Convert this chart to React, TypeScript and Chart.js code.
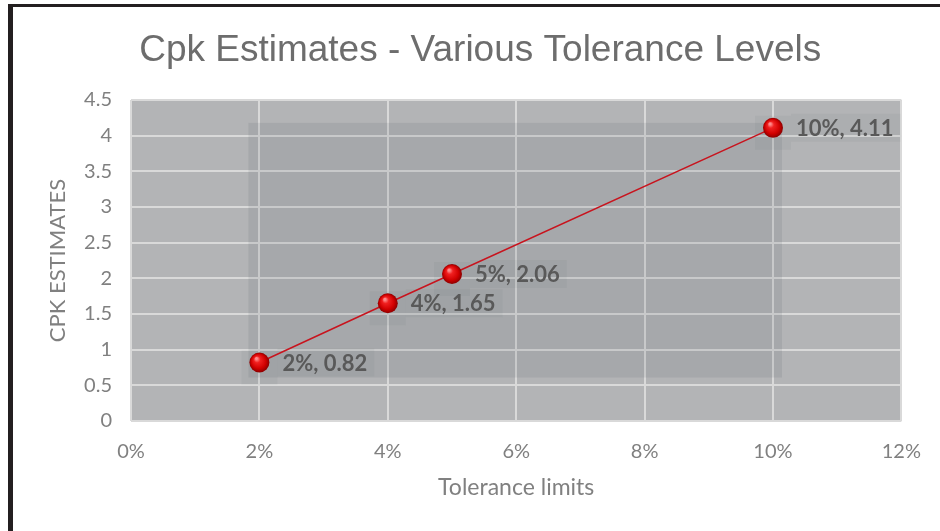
import React, { useEffect, useRef } from "react";
import { Chart, registerables } from "chart.js";

Chart.register(...registerables);

const tolerances = [0.02, 0.04, 0.05, 0.1];
const cpkValues = [0.82, 1.65, 2.06, 4.11];
const labelTexts = ["2%, 0.82", "4%, 1.65", "5%, 2.06", "10%, 4.11"];
const titleText = "Cpk Estimates - Various Tolerance Levels";
const xTitle = "Tolerance limits";
const yTitle = "CPK ESTIMATES";

const LABEL_FONT = "bold 22px Lato, 'Open Sans', sans-serif";
const TITLE_FONT = "37px 'Liberation Sans', Arial, sans-serif";

const decorPlugin = {
  id: "decor",
  beforeDraw(chart: any) {
    const ctx = chart.ctx;
    ctx.save();
    ctx.fillStyle = "#ffffff";
    ctx.fillRect(0, 0, chart.width, chart.height);
    ctx.fillStyle = "#231f20";
    ctx.fillRect(8, 4, 5, chart.height - 4);
    ctx.fillRect(8, 4, chart.width - 8, 3);
    const a = chart.chartArea;
    ctx.fillStyle = "#b3b4b6";
    ctx.fillRect(a.left, a.top, a.right - a.left, a.bottom - a.top);
    ctx.restore();
  },
  beforeDatasetsDraw(chart: any) {
    const ctx = chart.ctx;
    const meta = chart.getDatasetMeta(0);
    const pts = meta.data;
    if (!pts.length) return;
    let minX = Infinity, maxX = -Infinity, minY = Infinity, maxY = -Infinity;
    pts.forEach((p: any) => {
      minX = Math.min(minX, p.x); maxX = Math.max(maxX, p.x);
      minY = Math.min(minY, p.y); maxY = Math.max(maxY, p.y);
    });
    ctx.save();
    ctx.fillStyle = "rgba(60,70,80,0.10)";
    ctx.fillRect(minX - 11, minY - 5, maxX - minX + 20, maxY - minY + 20);
    ctx.font = LABEL_FONT;
    pts.forEach((p: any, i: number) => {
      ctx.fillStyle = "rgba(60,70,80,0.05)";
      ctx.fillRect(p.x - 18, p.y - 12, 36, 34);
      const w = ctx.measureText(labelTexts[i]).width;
      ctx.fillRect(p.x + 18, p.y - 14, w + 12, 28);
    });
    ctx.restore();
  },
  afterDatasetsDraw(chart: any) {
    const ctx = chart.ctx;
    const meta = chart.getDatasetMeta(0);
    ctx.save();
    meta.data.forEach((p: any, i: number) => {
      const r = 10;
      const g = ctx.createRadialGradient(p.x - 3, p.y - 4, 1, p.x, p.y, r);
      g.addColorStop(0, "#ff8a8a");
      g.addColorStop(0.25, "#f02020");
      g.addColorStop(0.7, "#d00000");
      g.addColorStop(1, "#8a0000");
      ctx.beginPath();
      ctx.arc(p.x, p.y, r, 0, Math.PI * 2);
      ctx.fillStyle = g;
      ctx.fill();
      ctx.fillStyle = "#595959";
      ctx.font = LABEL_FONT;
      ctx.textAlign = "left";
      ctx.textBaseline = "middle";
      ctx.fillText(labelTexts[i], p.x + 23, p.y + 1);
    });
    ctx.restore();
  },
  afterDraw(chart: any) {
    const ctx = chart.ctx;
    const a = chart.chartArea;
    ctx.save();
    ctx.font = TITLE_FONT;
    ctx.fillStyle = "#6d6d6d";
    ctx.textAlign = "center";
    ctx.textBaseline = "alphabetic";
    ctx.fillText(titleText, a.left + (a.right - a.left) / 2 - 36, 61);
    ctx.restore();
  },
};

export default function App() {
  const ref = useRef<HTMLCanvasElement>(null);
  useEffect(() => {
    if (!ref.current) return;
    const tickFont = { family: "Lato, 'Open Sans', sans-serif", size: 20 };
    const chart = new Chart(ref.current, {
      type: "scatter",
      data: {
        datasets: [
          {
            data: tolerances.map((t, i) => ({ x: t, y: cpkValues[i] })),
            showLine: true,
            borderColor: "#c8141e",
            borderWidth: 1.5,
            pointRadius: 0,
            pointHoverRadius: 0,
          },
        ],
      },
      options: {
        animation: false,
        responsive: false,
        events: [],
        layout: { padding: { top: 8, left: 0, right: 37, bottom: 0 } },
        plugins: {
          legend: { display: false },
          tooltip: { enabled: false },
          title: {
            display: true,
            text: titleText,
            color: "rgba(0,0,0,0)",
            font: { family: "'Liberation Sans', Arial, sans-serif", size: 37, weight: "normal", lineHeight: 1.2 },
            padding: { top: 16, bottom: 31.6 },
          },
        },
        scales: {
          x: {
            type: "linear",
            min: 0,
            max: 0.12,
            ticks: {
              stepSize: 0.02,
              color: "#808080",
              font: tickFont,
              padding: 19,
              callback: (v: any) => Math.round(Number(v) * 100) + "%",
            },
            grid: { color: "#d9d9d9", lineWidth: 2, drawTicks: false },
            border: { display: false },
            title: {
              display: true,
              text: xTitle,
              color: "#808080",
              font: { family: "Lato, 'Open Sans', sans-serif", size: 23, lineHeight: 1.2 },
              padding: { top: 0, bottom: 29.2 },
            },
            afterFit: (s: any) => { s.height = 110; },
          },
          y: {
            min: 0,
            max: 4.5,
            ticks: {
              stepSize: 0.5,
              color: "#808080",
              font: tickFont,
              padding: 19,
              callback: (v: any) => String(Number(v)),
            },
            grid: { color: "#d9d9d9", lineWidth: 2, drawTicks: false },
            border: { display: false },
            title: {
              display: true,
              text: yTitle,
              color: "#808080",
              font: { family: "Lato, 'Open Sans', sans-serif", size: 22, lineHeight: 1.2 },
              padding: { top: 44.8, bottom: 0 },
            },
            afterFit: (s: any) => { s.width = 131; },
          },
        },
      },
      plugins: [decorPlugin],
    });
    return () => chart.destroy();
  }, []);
  return (
    <div style={{ position: "absolute", left: 0, top: 0, width: 940, height: 531 }}>
      <canvas ref={ref} width={940} height={531} style={{ width: 940, height: 531, display: "block" }} />
    </div>
  );
}
